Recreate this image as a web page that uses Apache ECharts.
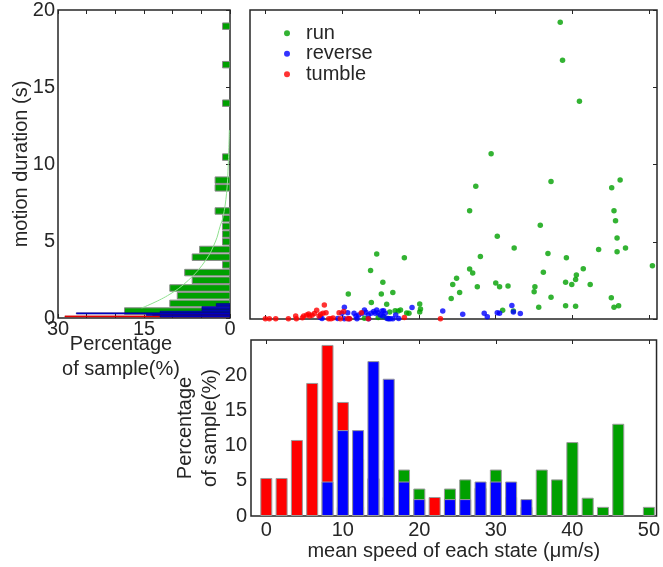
<!DOCTYPE html>
<html><head><meta charset="utf-8">
<script src="https://cdn.jsdelivr.net/npm/echarts@6/dist/echarts.min.js"></script>
<style>html,body{margin:0;padding:0;background:#fff}#c{width:663px;height:567px}</style>
</head><body><div id="c"></div>
<script>
// ---------- data ----------
const runSpeed = [38.4,38.7,40.9,29.4,27.4,26.6,37.2,46.2,45.1,45.4,45.6,45.8,45.8,46.9,50.4,43.4,35.8,30.2,32.4,28.0,36.8,39.2,36.2,41.4,40.5,40.4,39.1,39.9,42.3,35.1,35.0,37.2,45.05,35.6,39.1,40.4,45.4,46.0,26.6,27.0,27.6,30.0,30.5,31.6,24.9,24.4,25.3,24.2,30.9,32.3,18.1,14.5,13.7,15.3,10.8,15.1,16.6,13.8,15.8,20.1,20.2,20.1,16.9,17.6,17.3,18.4,18.7,16.2,12.9,14.7,16.0,15.4];
const runDur   = [19.2,16.75,14.1,10.7,8.6,7.0,8.9,9.0,8.5,7.0,6.36,5.24,4.35,4.6,3.44,4.5,6.06,5.35,4.6,4.05,4.24,3.96,3.03,3.25,2.84,2.55,2.38,2.23,2.23,2.08,1.77,1.41,1.37,0.76,0.86,0.82,0.76,0.86,3.23,2.98,2.08,2.33,2.08,2.14,2.64,2.23,1.71,1.32,0.56,0.52,3.96,4.2,3.14,2.38,1.62,1.62,1.71,1.06,0.95,0.97,0.65,0.45,0.54,0.58,0.52,0.39,0.37,0.45,0.05,0.1,0.03,0.15];
const reverseSpeed = [7.16,7.38,9.42,9.98,10.29,10.72,10.29,10.9,11.55,11.8,11.93,12.15,12.6,12.9,13.1,13.45,13.4,13.76,14.1,14.3,14.5,14.67,14.97,15.19,15.4,15.6,15.28,15.84,16.06,16.28,16.6,16.97,17.36,19.1,23.1,25.7,28.5,28.9,30.2,30.5,32.1,32.3,33.2];
const reverseDur   = [0.09,0.04,0.04,0.37,0.76,0.41,0.02,0.02,0.37,0.19,0.02,0.26,0.37,0.58,0.43,0.02,0.26,0.37,0.48,0.37,0.58,0.41,0.26,0.52,0.54,0.37,0.19,0.04,0.02,0.02,0.02,0.26,0.04,0.74,0.52,0.3,0.37,0.15,0.41,0.37,0.87,0.45,0.35];
const tumbleSpeed = [0.0,0.52,1.35,3.0,3.95,4.04,4.82,4.99,5.38,5.64,5.77,6.08,6.38,6.68,6.99,7.2,7.51,7.68,7.9,8.25,8.55,8.81,9.6,9.77,10.2,10.7,10.98,12.5,13.4,18.1,22.8];
const tumbleDur   = [0.02,0.02,0.01,0.01,0.19,0.01,0.08,0.19,0.26,0.32,0.19,0.24,0.35,0.56,0.19,0.3,0.37,0.91,0.41,0.02,0.02,0.06,0.41,0.02,0.48,0.02,0.02,0.41,0.02,0.1,0.01];

const speedBins  = [0,2,4,6,8,10,12,14,16,18,20,22,24,26,28,30,32,34,36,38,40,42,44,46,48,50];
const tumblePct  = [5.4,5.4,10.8,18.9,24.3,16.2,8.1,5.4,2.7,0,0,2.7,0,0,0,0,0,0,0,0,0,0,0,0,0,0];
const runPct     = [0,0,0,0,0,1.3,1.3,5.3,8.0,6.6,3.9,0,3.9,5.2,4.0,6.6,2.7,1.3,6.6,5.2,10.5,2.6,1.3,13.1,0,1.3];
const reversePct = [0,0,0,0,4.9,12.2,12.2,22.0,19.5,4.9,2.4,0,2.4,2.4,4.9,4.9,4.9,2.4,0,0,0,0,0,0,0,0];

const runDurBins = [0.45,0.95,1.45,1.95,2.45,2.95,3.45,3.95,4.45,4.95,5.45,5.95,6.45,6.95,8.45,8.95,10.45,13.95,16.45,18.95];
const runDurPct  = [18.4,10.5,9.2,10.5,6.6,7.9,1.3,6.6,5.3,1.3,1.3,1.3,1.3,2.6,2.6,2.6,1.3,1.3,1.3,1.3];
const reverseDurBins = [0.1,0.2,0.3,0.4,0.5,0.6,0.7,0.8,0.9];
const reverseDurPct  = [12.2,14.6,26.8,12.2,4.9,4.9,4.9,2.4,2.4];
const tumbleDurBins = [0.1,0.2,0.3];
const tumbleDurPct  = [28.8,13.5,5.4];
const fitDur = [0.65,1.45,2.47,3.77,5.0,5.93,6.58,8.1,10.0,12.2];
const fitPct = [15.4,10.9,7.2,4.2,2.5,1.75,1.2,0.6,0.3,0.12];

const speedTicks = [0,10,20,30,40,50];

// ---------- chart ----------
const FONT = 'Liberation Sans, Arial, Helvetica, sans-serif';
const TXT = '#262626';
const GREEN = '#00a000', BLUE = '#0000ff', RED = '#ff0000';
const zip = (a, b) => a.map((v, i) => [v, b[i]]);
const pairsNZ = (xs, ys) => xs.map((v, i) => [v, ys[i]]).filter(d => d[1] > 0);

function hbar(h, fill, stroke, lw) {
  return function (params, api) {
    const p = api.value(0), t = api.value(1);
    const a = api.coord([p, t + h / 2]);
    const b = api.coord([0, t - h / 2]);
    return {
      type: 'rect',
      shape: { x: Math.min(a[0], b[0]), y: a[1], width: Math.abs(b[0] - a[0]), height: b[1] - a[1] },
      style: { fill: fill, stroke: stroke, lineWidth: lw }
    };
  };
}

const lbl = { fontSize: 20, color: TXT, fontFamily: FONT };
const tickIn = { show: true, inside: true, length: 4, lineStyle: { color: TXT, width: 1 } };
const noLine = { show: false, onZero: false };
const noSplit = { show: false };

const chart = echarts.init(document.getElementById('c'), null, { renderer: 'canvas' });
chart.setOption({
  animation: false,
  textStyle: { fontFamily: FONT, color: TXT },
  grid: [
    { left: 58, top: 10, width: 172, height: 308, show: true, borderColor: TXT, borderWidth: 1.5, backgroundColor: 'transparent' },
    { left: 250, top: 10, width: 407, height: 309, show: true, borderColor: TXT, borderWidth: 1.5, backgroundColor: 'transparent' },
    { left: 251, top: 340, width: 408, height: 176, show: true, borderColor: TXT, borderWidth: 1.5, backgroundColor: 'transparent' }
  ],
  legend: {
    data: ['run', 'reverse', 'tumble'], orient: 'vertical', left: 284, top: 23, padding: 0,
    icon: 'circle', itemWidth: 6, itemHeight: 6, itemGap: 0, selectedMode: false,
    textStyle: { fontSize: 20, lineHeight: 20.5, color: TXT, fontFamily: FONT, padding: [0, 0, 0, 11] }
  },
  xAxis: [
    { gridIndex: 0, type: 'value', inverse: true, min: 0, max: 30, interval: 5, position: 'bottom',
      axisLine: noLine, splitLine: noSplit, axisTick: tickIn,
      axisLabel: Object.assign({ margin: 1, showMinLabel: true, showMaxLabel: true,
        formatter: v => (v % 15 === 0 ? String(v) : '') }, lbl),
      name: 'Percentage\nof sample(%)', nameLocation: 'middle', nameGap: 14, nameMoveOverlap: false,
      nameTextStyle: { fontSize: 20, lineHeight: 25, color: TXT, fontFamily: FONT, padding: [0, 46, 0, 0] } },
    { gridIndex: 0, type: 'value', inverse: true, min: 0, max: 30, interval: 5, position: 'top',
      axisLine: noLine, splitLine: noSplit, axisTick: tickIn, axisLabel: { show: false } },
    { gridIndex: 1, type: 'value', min: -2, max: 51, position: 'bottom',
      axisLine: noLine, splitLine: noSplit,
      axisTick: Object.assign({ customValues: speedTicks }, tickIn), axisLabel: { show: false } },
    { gridIndex: 1, type: 'value', min: -2, max: 51, position: 'top',
      axisLine: noLine, splitLine: noSplit,
      axisTick: Object.assign({ customValues: speedTicks }, tickIn), axisLabel: { show: false } },
    { gridIndex: 2, type: 'value', min: -2, max: 51, position: 'bottom',
      axisLine: noLine, splitLine: noSplit,
      axisTick: Object.assign({ customValues: speedTicks }, tickIn),
      axisLabel: Object.assign({ customValues: speedTicks, margin: 4 }, lbl),
      name: 'mean speed of each state (\u03bcm/s)', nameLocation: 'middle', nameGap: 25, nameMoveOverlap: false,
      nameTextStyle: { fontSize: 20, color: TXT, fontFamily: FONT } },
    { gridIndex: 2, type: 'value', min: -2, max: 51, position: 'top',
      axisLine: noLine, splitLine: noSplit,
      axisTick: Object.assign({ customValues: speedTicks }, tickIn), axisLabel: { show: false } }
  ],
  yAxis: [
    { gridIndex: 0, type: 'value', min: 0, max: 20, interval: 5, position: 'left',
      axisLine: noLine, splitLine: noSplit, axisTick: { show: false },
      axisLabel: Object.assign({ margin: 3 }, lbl),
      name: 'motion duration (s)', nameLocation: 'middle', nameGap: 27, nameMoveOverlap: false,
      nameTextStyle: { fontSize: 20, color: TXT, fontFamily: FONT } },
    { gridIndex: 0, type: 'value', min: 0, max: 20, interval: 5, position: 'right',
      axisLine: noLine, splitLine: noSplit, axisTick: tickIn, axisLabel: { show: false } },
    { gridIndex: 1, type: 'value', show: false, min: 0, max: 20, interval: 5, position: 'left',
      axisLine: noLine, splitLine: noSplit, axisTick: { show: false }, axisLabel: { show: false } },
    { gridIndex: 1, type: 'value', min: 0, max: 20, interval: 5, position: 'right',
      axisLine: noLine, splitLine: noSplit, axisTick: tickIn, axisLabel: { show: false } },
    { gridIndex: 2, type: 'value', min: 0, max: 25, interval: 5, position: 'left',
      axisLine: noLine, splitLine: noSplit, axisTick: { show: false },
      axisLabel: Object.assign({ margin: 4, formatter: v => (v >= 25 ? '' : String(v)) }, lbl),
      name: 'Percentage\nof sample(%)', nameLocation: 'middle', nameGap: 28, nameMoveOverlap: false,
      nameTextStyle: { fontSize: 20, lineHeight: 25, color: TXT, fontFamily: FONT } }
  ],
  series: [
    { name: 'run', type: 'scatter', xAxisIndex: 2, yAxisIndex: 2, symbolSize: 5.5,
      itemStyle: { color: GREEN }, data: zip(runSpeed, runDur) },
    { name: 'reverse', type: 'scatter', xAxisIndex: 2, yAxisIndex: 2, symbolSize: 5.5,
      itemStyle: { color: BLUE }, data: zip(reverseSpeed, reverseDur) },
    { name: 'tumble', type: 'scatter', xAxisIndex: 2, yAxisIndex: 2, symbolSize: 5.5,
      itemStyle: { color: RED }, data: zip(tumbleSpeed, tumbleDur) },
    { name: 'tumble-hist', type: 'bar', xAxisIndex: 4, yAxisIndex: 4, barWidth: 12, barGap: '-100%',
      itemStyle: { color: RED, borderColor: '#9a9a9a', borderWidth: 1 }, data: pairsNZ(speedBins, tumblePct) },
    { name: 'run-hist', type: 'bar', xAxisIndex: 4, yAxisIndex: 4, barWidth: 12, barGap: '-100%',
      itemStyle: { color: GREEN, borderColor: '#9a9a9a', borderWidth: 1 }, data: pairsNZ(speedBins, runPct) },
    { name: 'reverse-hist', type: 'bar', xAxisIndex: 4, yAxisIndex: 4, barWidth: 12, barGap: '-100%',
      itemStyle: { color: BLUE, borderColor: '#9a9a9a', borderWidth: 1 }, data: pairsNZ(speedBins, reversePct) },
    { name: 'run-dur', type: 'custom', xAxisIndex: 0, yAxisIndex: 0, clip: true,
      renderItem: hbar(0.42, GREEN, '#8a8a8a', 1), encode: { x: 0, y: 1 },
      data: zip(runDurPct, runDurBins) },
    { name: 'tumble-dur', type: 'custom', xAxisIndex: 0, yAxisIndex: 0, clip: true,
      renderItem: hbar(0.08, RED, '#aa0000', 0.4), encode: { x: 0, y: 1 },
      data: zip(tumbleDurPct, tumbleDurBins) },
    { name: 'reverse-dur', type: 'custom', xAxisIndex: 0, yAxisIndex: 0, clip: true,
      renderItem: hbar(0.08, BLUE, '#000070', 0.6), encode: { x: 0, y: 1 },
      data: zip(reverseDurPct, reverseDurBins) },
    { name: 'fit', type: 'line', xAxisIndex: 0, yAxisIndex: 0, smooth: 0.4, symbol: 'none',
      lineStyle: { color: '#8ee08e', width: 1 }, data: zip(fitPct, fitDur), z: 3 }
  ]
});
</script></body></html>
